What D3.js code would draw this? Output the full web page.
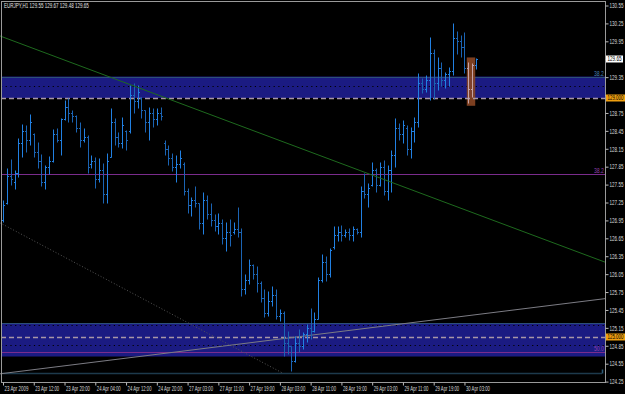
<!DOCTYPE html>
<html><head><meta charset="utf-8">
<script src="https://cdn.jsdelivr.net/npm/d3@7"></script>
<style>html,body{margin:0;padding:0;background:#000;overflow:hidden}</style>
</head><body><svg id="c" width="625" height="394"></svg>
<script>
const symbol = "EURJPY,H1";
const lastQuote = [129.55, 129.67, 129.48, 129.65];
const timeLabels = ["23 Apr 2009","23 Apr 12:00","23 Apr 20:00","24 Apr 04:00","24 Apr 12:00","24 Apr 20:00","27 Apr 03:00","27 Apr 11:00","27 Apr 19:00","28 Apr 03:00","28 Apr 11:00","28 Apr 19:00","29 Apr 03:00","29 Apr 11:00","29 Apr 19:00","30 Apr 03:00"];
const timeLabelBar = [0,8,16,24,32,40,48,56,64,72,80,88,96,104,112,120];
const priceTicks = [130.55,130.25,129.95,129.65,129.35,129.05,128.75,128.45,128.15,127.85,127.55,127.25,126.95,126.65,126.35,126.05,125.75,125.45,125.15,124.85,124.55,124.25];

const highs = [127.30,127.83,127.98,127.80,128.33,128.57,128.55,128.73,128.42,128.27,
 128.07,127.88,128.03,128.48,128.50,128.67,128.97,129.00,128.80,128.72,
 128.60,128.50,128.38,128.05,128.02,128.00,127.92,128.08,128.83,128.67,
 128.43,128.68,128.47,129.22,129.25,129.22,129.02,128.80,128.85,128.83,
 128.83,128.85,128.30,128.22,128.08,128.05,128.13,127.93,127.50,127.35,
 127.52,127.25,127.42,127.38,127.25,127.05,127.08,126.97,126.92,126.97,
 126.92,127.17,126.82,126.05,126.30,126.22,126.18,125.93,125.80,125.77,
 125.85,125.80,125.47,125.43,125.10,124.85,125.02,125.13,125.08,125.22,
 125.48,125.42,126.00,126.38,126.35,126.48,126.85,126.85,126.88,126.80,
 126.83,126.85,126.83,127.52,127.75,127.58,127.93,127.83,127.93,127.97,
 127.88,128.13,128.67,128.58,128.63,128.55,128.52,128.68,129.42,129.33,
 129.38,130.02,129.82,129.68,129.60,129.43,129.52,130.25,130.13,130.05,
 130.10,129.60,129.58,129.67];
const lows = [126.93,127.22,127.55,127.47,127.67,128.02,128.10,128.22,128.02,127.83,
 127.52,127.47,127.72,127.93,128.27,128.05,128.63,128.60,128.60,128.43,
 128.18,128.27,127.75,127.83,127.50,127.60,127.25,127.25,128.02,128.22,
 128.18,128.17,128.13,128.42,128.75,128.83,128.67,128.43,128.30,128.52,
 128.55,128.63,128.05,127.88,127.77,127.60,127.83,127.38,127.08,127.02,
 127.17,126.80,126.72,126.97,126.85,126.77,126.72,126.55,126.43,126.52,
 126.72,126.67,125.68,125.72,125.88,125.97,125.75,125.58,125.33,125.35,
 125.52,125.30,125.27,124.68,124.72,124.42,124.58,124.75,124.80,124.92,
 124.97,125.08,125.30,125.92,125.93,126.00,126.47,126.60,126.60,126.67,
 126.63,126.60,126.72,126.67,127.33,127.17,127.52,127.43,127.52,127.38,
 127.30,127.42,127.85,128.30,128.25,128.05,128.00,128.27,128.52,129.08,
 129.10,128.97,128.98,129.13,129.20,129.17,129.20,129.38,129.73,129.68,
 129.42,128.92,129.02,129.48];
const opens = [126.95,127.25,127.70,127.60,127.75,128.25,128.45,128.30,128.40,128.10,
 127.95,127.60,127.85,127.95,128.40,128.30,128.65,128.85,128.75,128.70,
 128.50,128.30,128.35,127.90,127.95,127.65,127.80,127.40,128.02,128.60,
 128.35,128.25,128.45,128.45,129.05,128.95,129.00,128.80,128.60,128.75,
 128.65,128.75,128.25,128.15,128.00,127.85,127.90,127.90,127.45,127.20,
 127.30,127.25,126.90,127.30,127.05,126.95,126.85,126.90,126.65,126.75,
 126.75,126.80,126.75,125.80,125.95,126.20,126.05,125.90,125.65,125.40,
 125.60,125.70,125.35,125.40,124.90,124.85,124.60,124.90,124.85,125.05,
 125.15,125.10,125.30,125.95,126.25,126.05,126.50,126.70,126.75,126.70,
 126.75,126.70,126.80,126.75,127.45,127.40,127.55,127.80,127.55,127.85,
 127.45,127.80,128.05,128.50,128.40,128.50,128.15,128.45,128.60,129.25,
 129.15,129.30,129.75,129.25,129.50,129.30,129.40,129.45,130.00,129.95,
 129.85,129.50,129.15,129.55];
const closes = [127.20,127.70,127.65,127.75,128.25,128.45,128.30,128.60,128.10,127.95,
 127.60,127.85,127.95,128.40,128.30,128.65,128.85,128.75,128.70,128.50,
 128.30,128.35,127.85,127.95,127.65,127.80,127.40,127.95,128.60,128.35,
 128.25,128.55,128.30,129.05,128.95,129.10,128.80,128.60,128.75,128.65,
 128.75,128.70,128.15,128.00,127.85,127.90,128.00,127.45,127.20,127.30,
 127.25,126.90,127.30,127.05,126.95,126.85,126.90,126.65,126.75,126.70,
 126.80,126.75,125.80,125.95,126.20,126.05,125.90,125.65,125.40,125.60,
 125.70,125.35,125.40,124.90,124.85,124.60,124.90,124.85,125.05,125.15,
 125.10,125.30,125.95,126.25,126.05,126.45,126.70,126.75,126.70,126.75,
 126.70,126.80,126.75,127.45,127.40,127.50,127.80,127.55,127.85,127.45,
 127.80,128.05,128.50,128.40,128.55,128.15,128.45,128.60,129.25,129.15,
 129.30,129.75,129.25,129.50,129.30,129.40,129.45,130.00,129.95,129.85,
 129.50,129.15,129.55,129.65];

// zones (price bands) and levels
const zoneTops = [129.36, 125.23];
const zoneBottoms = [129.00, 124.67];
const zoneLabels = ["38.2", ""];
const zoneDotLevels = [129.20, 125.20, 124.86];
const dashedLevels = [129.00, 125.00];
const dashedLabels = ["129.000", "125.000"];
const fiboLevels = [127.73, 124.74];
const fiboLabels = ["38.2", "50.0"];
const bottomLevel = 124.39;
// trend lines: [barIndex, price] endpoints
const greenLine = [[-0.8, 130.04], [156.6, 126.25]];
const greyLine = [[-0.8, 124.38], [156.6, 125.64]];
const dottedLine = [[-0.8, 126.91], [72.8, 124.39]];
// highlight box: bars and prices
const boxBars = [120.6, 122.8];
const boxPrices = [129.68, 128.87];

const FONT = "Liberation Sans";
const svg = d3.select("#c");
const L = 1, R = 605, T = 1, B = 382;
const x = d3.scaleLinear().domain([0, 123]).range([3, 476]);
const y = d3.scaleLinear().domain([124.25, 130.55]).range([381.6, 5.5]);
const cy = v => Math.round(y(v)) + 0.5;

function fit(node, tx, ty, target) {
  const t = d3.select(node).attr("x", 0).attr("y", 0);
  const len = node.getComputedTextLength() || target;
  t.attr("transform", `translate(${tx},${ty}) scale(${target / len},1)`);
}

svg.append("rect").attr("width", 625).attr("height", 394).attr("fill", "#000");

const plot = svg.append("g");
zoneTops.forEach((t, i) => {
  plot.append("rect").attr("x", L).attr("width", R - L)
    .attr("y", y(t)).attr("height", y(zoneBottoms[i]) - y(t))
    .attr("fill", "#1b1b82");
  plot.append("line").attr("x1", L).attr("x2", R).attr("y1", cy(t)).attr("y2", cy(t))
    .attr("stroke", "#2c4f78").attr("stroke-width", 1);
  if (zoneLabels[i]) {
    const tx = plot.append("text").attr("fill", "#4a80b4").attr("font-size", 7)
      .attr("font-family", FONT).text(zoneLabels[i]);
    fit(tx.node(), 594, y(t) - 1, 10);
  }
});
zoneDotLevels.forEach(v => {
  plot.append("line").attr("x1", L).attr("x2", R).attr("y1", cy(v)).attr("y2", cy(v))
    .attr("stroke", "#000").attr("stroke-width", 1.2).attr("stroke-dasharray", "1.2,3.5");
});
plot.append("rect").attr("x", x(boxBars[0])).attr("width", x(boxBars[1]) - x(boxBars[0]))
  .attr("y", y(boxPrices[0])).attr("height", y(boxPrices[1]) - y(boxPrices[0]))
  .attr("fill", "#8a4624").attr("opacity", 0.9);
dashedLevels.forEach(v => {
  plot.append("line").attr("x1", L).attr("x2", R).attr("y1", cy(v)).attr("y2", cy(v))
    .attr("stroke", "#a896a6").attr("stroke-width", 1.3).attr("stroke-dasharray", "5,3");
});
fiboLevels.forEach((v, i) => {
  plot.append("line").attr("x1", L).attr("x2", R).attr("y1", cy(v)).attr("y2", cy(v))
    .attr("stroke", "#7a2c8c").attr("stroke-width", 1);
  const tx = plot.append("text").attr("fill", "#9040aa").attr("font-size", 7)
    .attr("font-family", FONT).text(fiboLabels[i]);
  fit(tx.node(), 594, cy(v) - 1.5, 10);
});
plot.append("line").attr("x1", L).attr("x2", 602).attr("y1", cy(bottomLevel)).attr("y2", cy(bottomLevel))
  .attr("stroke", "#1d3a4c").attr("stroke-width", 1.5);
plot.append("line").attr("x1", 602.5).attr("x2", 602.5).attr("y1", cy(bottomLevel) - 4).attr("y2", cy(bottomLevel))
  .attr("stroke", "#2a5a78").attr("stroke-width", 1.5);

const lineGen = d3.line().x(d => x(d[0])).y(d => y(d[1]));
plot.append("path").attr("d", lineGen(dottedLine)).attr("fill", "none")
  .attr("stroke", "#555").attr("stroke-width", 1).attr("stroke-dasharray", "1,2");
plot.append("path").attr("d", lineGen(greyLine)).attr("fill", "none")
  .attr("stroke", "#7c7c84").attr("stroke-width", 1);

const bars = plot.append("g");
highs.forEach((h, i) => {
  const px = Math.round(x(i)) + 0.5;
  const inBox = x(i) > x(boxBars[0]) && x(i) < x(boxBars[1]);
  const up = closes[i] >= opens[i];
  const col = inBox ? "#c4a4a8" : (up ? "#2180e2" : "#1b64b4");
  bars.append("path")
    .attr("d", `M${px},${cy(h)}V${cy(lows[i])}M${px - 1.5},${cy(opens[i])}H${px}M${px},${cy(closes[i])}H${px + 1.5}`)
    .attr("stroke", col).attr("stroke-width", 1).attr("fill", "none");
});

plot.append("path").attr("d", lineGen(greenLine)).attr("fill", "none")
  .attr("stroke", "#1e6a1e").attr("stroke-width", 1);

svg.append("rect").attr("x", L + 0.5).attr("y", T + 0.5).attr("width", R - L).attr("height", B - T)
  .attr("fill", "none").attr("stroke", "#9a9a9a").attr("stroke-width", 1);

const tagValues = dashedLevels.concat([lastQuote[3]]);
const covered = v => tagValues.some(t => Math.abs(y(t) - y(v)) < 5);

const ya = svg.append("g").attr("transform", `translate(${R + 0.5},0)`)
  .call(d3.axisRight(y).tickValues(priceTicks).tickSize(3).tickFormat(d3.format(".2f")));
ya.select(".domain").remove();
ya.selectAll("line").attr("stroke", "#bbb");
ya.selectAll("text").attr("fill", "#d8d8d8").attr("font-size", 6.5).attr("font-family", FONT)
  .attr("dy", null)
  .each(function (d) {
    if (covered(d)) { d3.select(this).remove(); return; }
    fit(this, 4, 2.3, 14);
  });

const xa = svg.append("g").attr("transform", `translate(0,${B + 0.5})`)
  .call(d3.axisBottom(x).tickValues(timeLabelBar).tickSize(3).tickFormat((d, i) => timeLabels[i]));
xa.select(".domain").remove();
xa.selectAll("line").attr("stroke", "#bbb");
xa.selectAll("text").attr("fill", "#d8d8d8").attr("font-size", 6.5).attr("font-family", FONT)
  .attr("text-anchor", "start").attr("dy", null)
  .each(function () { fit(this, 1, 8.5, 24); });

function tag(v, txt, fill, w) {
  const g = svg.append("g").attr("transform", `translate(${R + 1},${Math.round(y(v))})`);
  g.append("rect").attr("x", 0).attr("y", -3.5).attr("width", w).attr("height", 7).attr("fill", fill);
  const t = g.append("text").attr("fill", "#000").attr("font-size", 6.5).attr("font-family", FONT).text(txt);
  fit(t.node(), 1.5, 2.3, w - 3);
}
dashedLevels.forEach((v, i) => tag(v, dashedLabels[i], "#f0a010", 19));
tag(lastQuote[3], lastQuote[3].toFixed(2), "#ffffff", 17);

const title = svg.append("text").attr("fill", "#e0e0e0").attr("font-size", 6.5).attr("font-family", FONT)
  .text(symbol + "  " + lastQuote.map(d => d.toFixed(2)).join(" "));
fit(title.node(), 4, 8, 85);
</script></body></html>
